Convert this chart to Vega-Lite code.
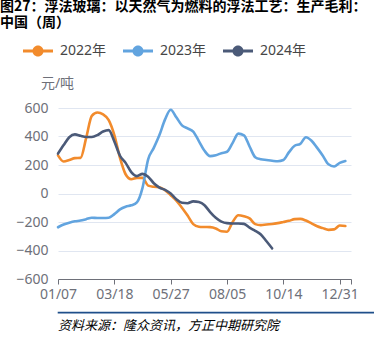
{
  "$schema": "https://vega.github.io/schema/vega-lite/v6.json",
  "padding": {"left": 0, "top": 0, "right": 0, "bottom": 0},
  "background": "white",
  "config": {"view": {"stroke": null}, "font": "Noto Sans, Noto Sans CJK SC"},
  "title": {
    "text": ["图27：浮法玻璃：以天然气为燃料的浮法工艺：生产毛利：", "中国（周）"],
    "anchor": "start", "frame": "bounds", "fontSize": 14, "fontWeight": "bold",
    "font": "Noto Sans CJK SC", "color": "#000000", "lineHeight": 16, "offset": 6
  },
  "spacing": 7,
  "vconcat": [
    {
      "width": 293,
      "height": 171,
      "data": {"values": [
        {"s":"2022年","i":0,"v":268},{"s":"2022年","i":1,"v":225},{"s":"2022年","i":2,"v":235},{"s":"2022年","i":3,"v":248},{"s":"2022年","i":4,"v":250},{"s":"2022年","i":5,"v":390},{"s":"2022年","i":6,"v":545},{"s":"2022年","i":7,"v":568},{"s":"2022年","i":8,"v":556},{"s":"2022年","i":9,"v":515},{"s":"2022年","i":10,"v":410},{"s":"2022年","i":11,"v":250},{"s":"2022年","i":12,"v":135},{"s":"2022年","i":13,"v":100},{"s":"2022年","i":14,"v":110},{"s":"2022年","i":15,"v":110},{"s":"2022年","i":16,"v":55},{"s":"2022年","i":17,"v":47},{"s":"2022年","i":18,"v":44},{"s":"2022年","i":19,"v":23},{"s":"2022年","i":20,"v":-12},{"s":"2022年","i":21,"v":-50},{"s":"2022年","i":22,"v":-100},{"s":"2022年","i":23,"v":-155},{"s":"2022年","i":24,"v":-215},{"s":"2022年","i":25,"v":-233},{"s":"2022年","i":26,"v":-235},{"s":"2022年","i":27,"v":-236},{"s":"2022年","i":28,"v":-245},{"s":"2022年","i":29,"v":-265},{"s":"2022年","i":30,"v":-268},{"s":"2022年","i":31,"v":-200},{"s":"2022年","i":32,"v":-153},{"s":"2022年","i":33,"v":-160},{"s":"2022年","i":34,"v":-175},{"s":"2022年","i":35,"v":-215},{"s":"2022年","i":36,"v":-222},{"s":"2022年","i":37,"v":-217},{"s":"2022年","i":38,"v":-214},{"s":"2022年","i":39,"v":-208},{"s":"2022年","i":40,"v":-200},{"s":"2022年","i":41,"v":-192},{"s":"2022年","i":42,"v":-180},{"s":"2022年","i":43,"v":-178},{"s":"2022年","i":44,"v":-190},{"s":"2022年","i":45,"v":-210},{"s":"2022年","i":46,"v":-230},{"s":"2022年","i":47,"v":-243},{"s":"2022年","i":48,"v":-255},{"s":"2022年","i":49,"v":-252},{"s":"2022年","i":50,"v":-225},{"s":"2022年","i":51,"v":-228},
        {"s":"2023年","i":0,"v":-237},{"s":"2023年","i":1,"v":-218},{"s":"2023年","i":2,"v":-205},{"s":"2023年","i":3,"v":-195},{"s":"2023年","i":4,"v":-190},{"s":"2023年","i":5,"v":-180},{"s":"2023年","i":6,"v":-170},{"s":"2023年","i":7,"v":-172},{"s":"2023年","i":8,"v":-172},{"s":"2023年","i":9,"v":-170},{"s":"2023年","i":10,"v":-145},{"s":"2023年","i":11,"v":-112},{"s":"2023年","i":12,"v":-93},{"s":"2023年","i":13,"v":-83},{"s":"2023年","i":14,"v":-62},{"s":"2023年","i":15,"v":40},{"s":"2023年","i":16,"v":240},{"s":"2023年","i":17,"v":320},{"s":"2023年","i":18,"v":410},{"s":"2023年","i":19,"v":520},{"s":"2023年","i":20,"v":588},{"s":"2023年","i":21,"v":535},{"s":"2023年","i":22,"v":478},{"s":"2023年","i":23,"v":457},{"s":"2023年","i":24,"v":435},{"s":"2023年","i":25,"v":368},{"s":"2023年","i":26,"v":300},{"s":"2023年","i":27,"v":262},{"s":"2023年","i":28,"v":268},{"s":"2023年","i":29,"v":283},{"s":"2023年","i":30,"v":293},{"s":"2023年","i":31,"v":355},{"s":"2023年","i":32,"v":420},{"s":"2023年","i":33,"v":408},{"s":"2023年","i":34,"v":330},{"s":"2023年","i":35,"v":255},{"s":"2023年","i":36,"v":240},{"s":"2023年","i":37,"v":235},{"s":"2023年","i":38,"v":230},{"s":"2023年","i":39,"v":226},{"s":"2023年","i":40,"v":235},{"s":"2023年","i":41,"v":290},{"s":"2023年","i":42,"v":335},{"s":"2023年","i":43,"v":348},{"s":"2023年","i":44,"v":395},{"s":"2023年","i":45,"v":370},{"s":"2023年","i":46,"v":320},{"s":"2023年","i":47,"v":265},{"s":"2023年","i":48,"v":205},{"s":"2023年","i":49,"v":190},{"s":"2023年","i":50,"v":215},{"s":"2023年","i":51,"v":228},
        {"s":"2024年","i":0,"v":280},{"s":"2024年","i":1,"v":340},{"s":"2024年","i":2,"v":395},{"s":"2024年","i":3,"v":415},{"s":"2024年","i":4,"v":405},{"s":"2024年","i":5,"v":397},{"s":"2024年","i":6,"v":397},{"s":"2024年","i":7,"v":410},{"s":"2024年","i":8,"v":435},{"s":"2024年","i":9,"v":445},{"s":"2024年","i":10,"v":365},{"s":"2024年","i":11,"v":265},{"s":"2024年","i":12,"v":215},{"s":"2024年","i":13,"v":150},{"s":"2024年","i":14,"v":122},{"s":"2024年","i":15,"v":138},{"s":"2024年","i":16,"v":118},{"s":"2024年","i":17,"v":72},{"s":"2024年","i":18,"v":42},{"s":"2024年","i":19,"v":25},{"s":"2024年","i":20,"v":0},{"s":"2024年","i":21,"v":-40},{"s":"2024年","i":22,"v":-65},{"s":"2024年","i":23,"v":-68},{"s":"2024年","i":24,"v":-55},{"s":"2024年","i":25,"v":-60},{"s":"2024年","i":26,"v":-82},{"s":"2024年","i":27,"v":-130},{"s":"2024年","i":28,"v":-170},{"s":"2024年","i":29,"v":-197},{"s":"2024年","i":30,"v":-208},{"s":"2024年","i":31,"v":-210},{"s":"2024年","i":32,"v":-210},{"s":"2024年","i":33,"v":-213},{"s":"2024年","i":34,"v":-240},{"s":"2024年","i":35,"v":-262},{"s":"2024年","i":36,"v":-288},{"s":"2024年","i":37,"v":-335},{"s":"2024年","i":38,"v":-385}
      ]},
      "mark": {"type": "line", "strokeWidth": 2.6, "interpolate": "monotone", "strokeJoin": "round", "strokeCap": "round"},
      "encoding": {
        "x": {
          "field": "i", "type": "quantitative",
          "scale": {"domain": [0, 52], "nice": false, "zero": false},
          "axis": {
            "title": null, "values": [0, 10, 20, 30, 40, 50, 52],
            "labelExpr": "datum.value == 0 ? '01/07' : datum.value == 10 ? '03/18' : datum.value == 20 ? '05/27' : datum.value == 30 ? '08/05' : datum.value == 40 ? '10/14' : datum.value == 50 ? '12/31' : ''",
            "grid": false, "domainColor": "#6e7079", "tickColor": "#6e7079", "tickSize": 5,
            "labelFontSize": 14, "labelColor": "#6e7079", "labelPadding": 3, "labelFlush": false, "labelOverlap": false
          }
        },
        "y": {
          "field": "v", "type": "quantitative",
          "scale": {"domain": [-600, 600], "nice": false},
          "axis": {
            "title": "元/吨", "titleAngle": 0, "titleX": -1, "titleY": -25, "titleAlign": "center", "titleBaseline": "middle",
            "titleFontSize": 14, "titleFontWeight": "normal", "titleColor": "#6e7079",
            "values": [-600, -400, -200, 0, 200, 400, 600], "domain": false, "ticks": false,
            "labelPadding": 10, "labelFontSize": 14, "labelColor": "#6e7079",
            "gridColor": "#e0e6f1", "gridWidth": 1, "minExtent": 58
          }
        },
        "color": {
          "field": "s", "type": "nominal",
          "scale": {"domain": ["2022年", "2023年", "2024年"], "range": ["#f28b2c", "#62a4df", "#4b5a78"]},
          "legend": {
            "orient": "none", "legendX": -35, "legendY": -72, "direction": "horizontal", "title": null,
            "symbolType": "M-1,-0.1L1,-0.1L1,0.1L-1,0.1Z M0.37,0A0.37,0.37,0,1,1,-0.37,0A0.37,0.37,0,1,1,0.37,0Z",
            "symbolSize": 900, "symbolStrokeWidth": 0, "labelFontSize": 14, "labelColor": "#464646",
            "labelOffset": 7, "columnPadding": 16, "padding": 0,
            "encode": {"symbols": {"update": {"fill": {"scale": "color", "field": "value"}, "fillOpacity": {"value": 1}, "opacity": {"value": 1}}}}
          }
        }
      }
    },
    {
      "width": 374,
      "height": 0.5,
      "data": {"values": [{"a": 1}]},
      "view": {"stroke": "#1f4f8a", "strokeWidth": 1.2},
      "mark": {"type": "point", "opacity": 0},
      "title": {
        "text": "资料来源：隆众资讯，方正中期研究院", "orient": "bottom", "anchor": "start", "frame": "group",
        "fontStyle": "italic", "fontSize": 13, "fontWeight": "normal", "font": "Noto Sans CJK SC",
        "color": "#000000", "offset": 5
      }
    }
  ]
}
